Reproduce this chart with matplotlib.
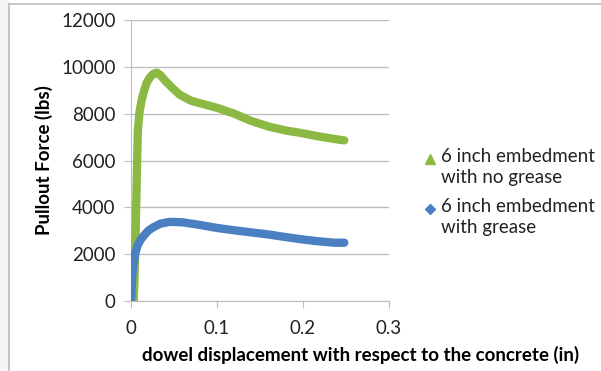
# Pullout force vs dowel displacement
import matplotlib.pyplot as plt
from matplotlib.patches import Rectangle
from matplotlib.lines import Line2D

plt.rcParams['font.family'] = ['Lato', 'DejaVu Sans']

# 6 inch embedment with no grease
x_nogrease = [0.003, 0.004, 0.005, 0.006, 0.007, 0.008, 0.010, 0.0125, 0.015, 0.018,
              0.022, 0.026, 0.030, 0.034, 0.040, 0.048, 0.057, 0.070, 0.085, 0.100,
              0.120, 0.139, 0.160, 0.180, 0.197, 0.215, 0.236, 0.248]
y_nogrease = [0, 900, 2200, 4000, 5800, 7300, 8100, 8600, 8950, 9300,
              9550, 9700, 9750, 9650, 9400, 9100, 8800, 8550, 8400, 8250,
              8000, 7700, 7450, 7280, 7180, 7050, 6920, 6860]

# 6 inch embedment with grease
x_grease = [0.000, 0.0005, 0.001, 0.002, 0.003, 0.005, 0.008, 0.011, 0.014, 0.020,
            0.026, 0.034, 0.045, 0.060, 0.080, 0.100, 0.120, 0.140, 0.158, 0.178,
            0.197, 0.215, 0.236, 0.248]
y_grease = [0, 400, 800, 1300, 1600, 2050, 2400, 2600, 2750, 3000,
            3150, 3300, 3380, 3360, 3250, 3120, 3020, 2930, 2850, 2740,
            2640, 2560, 2490, 2490]

labels = ['6 inch embedment\nwith no grease', '6 inch embedment\nwith grease']

green = '#8CB943'
blue = '#4A7FC1'
grid_col = '#BEBEBE'
fs = 13.5

fig = plt.figure(figsize=(6.01, 3.71), dpi=100)
ax = fig.add_axes([131/601, 1 - 301/371, 258/601, 281/371])

ax.plot(x_nogrease, y_nogrease, color=green, lw=6, solid_capstyle='round', zorder=3)
ax.plot(x_grease, y_grease, color=blue, lw=6, solid_capstyle='round', zorder=4)

ax.set_xlim(0, 0.3)
ax.set_ylim(0, 12000)
ax.set_xticks([0, 0.1, 0.2, 0.3])
ax.set_xticklabels(['0', '0.1', '0.2', '0.3'])
ax.set_yticks(range(0, 12001, 2000))
ax.grid(axis='y', color=grid_col, lw=1)
ax.set_axisbelow(True)
for s in ['top', 'right']:
    ax.spines[s].set_visible(False)
ax.spines['left'].set_color(grid_col)
ax.spines['bottom'].set_color(grid_col)
ax.tick_params(axis='both', colors=grid_col, labelcolor='#222222', labelsize=fs, length=5)
ax.tick_params(axis='x', pad=9)
ax.tick_params(axis='y', pad=6)
ax.set_xlabel('dowel displacement with respect to the concrete (in)',
              fontsize=fs, fontweight='bold')
ax.xaxis.set_label_coords((361 - 131)/258, -(355 - 301)/281)
ax.xaxis.label.set_va('center')
ax.set_ylabel('Pullout Force (lbs)', fontsize=fs, fontweight='bold', labelpad=6)

# legend: marker next to first line of each entry
legend_items = [(labels[0], green, '^', 7, 159), (labels[1], blue, 'D', 5, 209)]
for text, col, mk, ms, ypx in legend_items:
    fig.lines.append(Line2D([430/601], [1 - ypx/371], transform=fig.transFigure,
                            ls='none', marker=mk, color=col, markersize=ms))
    fig.text(441/601, 1 - (ypx - 11)/371, text, fontsize=fs, color='#222222',
             va='top', ha='left', linespacing=1.32)

# page background and frame
fig.patches.append(Rectangle((0, 0), 8/601, 1, transform=fig.transFigure,
                             color='#F4F4F4', zorder=0))
fig.lines.append(Line2D([8.5/601, 8.5/601], [0, 1 - 3.5/371], transform=fig.transFigure,
                        color='#BBBBBB', lw=1.2))
fig.lines.append(Line2D([8.5/601, 1], [1 - 3.5/371, 1 - 3.5/371], transform=fig.transFigure,
                        color='#BBBBBB', lw=1.2))

fig.savefig('out.png', dpi=100)
